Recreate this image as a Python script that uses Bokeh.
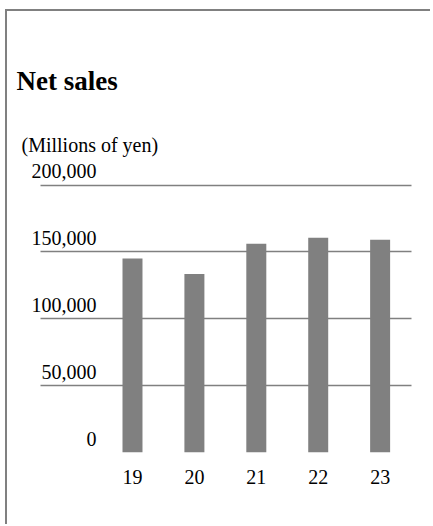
from bokeh.plotting import figure
from bokeh.models import ColumnDataSource, FixedTicker, LabelSet, Label
from bokeh.embed import file_html
from bokeh.resources import INLINE

# data
years = ["19", "20", "21", "22", "23"]
net_sales = [145000, 133500, 156000, 160500, 159000]
y_ticks = [0, 50000, 100000, 150000, 200000]
y_tick_labels = ["0", "50,000", "100,000", "150,000", "200,000"]
title_text = "Net sales"
unit_text = "(Millions of yen)"

FONT = "Liberation Serif"
GRAY = "#808080"

xs = list(range(len(years)))

p = figure(width=425, height=515, output_backend="svg", toolbar_location=None,
           x_range=(-2.019, 4.846), y_range=(0, 329720),
           y_axis_location=None, min_border=0, min_border_bottom=74)
p.styles = {"margin-left": "5px", "margin-top": "9px",
            "border-left": "2px solid #808080", "border-top": "2px solid #808080"}
p.outline_line_color = None
p.background_fill_color = "white"

src = ColumnDataSource(dict(x=xs, y=net_sales))
p.vbar(x="x", top="y", width=0.323, source=src, fill_color=GRAY, line_color=None)

# x axis
p.xaxis.ticker = FixedTicker(ticks=xs)
p.xaxis.major_label_overrides = {i: y for i, y in enumerate(years)}
p.xaxis.axis_line_color = None
p.xaxis.major_tick_line_color = None
p.xaxis.minor_tick_line_color = None
p.xaxis.major_label_standoff = 11
p.xaxis.major_label_text_font = FONT
p.xaxis.major_label_text_font_size = "20px"
p.xaxis.major_label_text_color = "black"

# horizontal grid limited to the plotting area
p.xgrid.visible = False
p.ygrid.ticker = FixedTicker(ticks=y_ticks)
p.ygrid.grid_line_color = GRAY
p.ygrid.grid_line_width = 1.5
p.ygrid.cross_bounds = (-1.486, 4.507)

lab_src = ColumnDataSource(dict(x=[-0.582] * len(y_ticks), y=y_ticks, t=y_tick_labels))
p.add_layout(LabelSet(x="x", y="y", text="t", source=lab_src, text_align="right",
                      text_baseline="alphabetic", y_offset=7, text_font=FONT,
                      text_font_size="20px", text_color="black"))

p.add_layout(Label(x=9, y=372, x_units="screen", y_units="screen", text=title_text,
                   text_font=FONT, text_font_size="27px", text_font_style="bold",
                   text_baseline="alphabetic", text_color="black"))
p.add_layout(Label(x=14, y=308, x_units="screen", y_units="screen", text=unit_text,
                   text_font=FONT, text_font_size="20px",
                   text_baseline="alphabetic", text_color="black"))

open("out.html", "w").write(file_html(p, INLINE))
